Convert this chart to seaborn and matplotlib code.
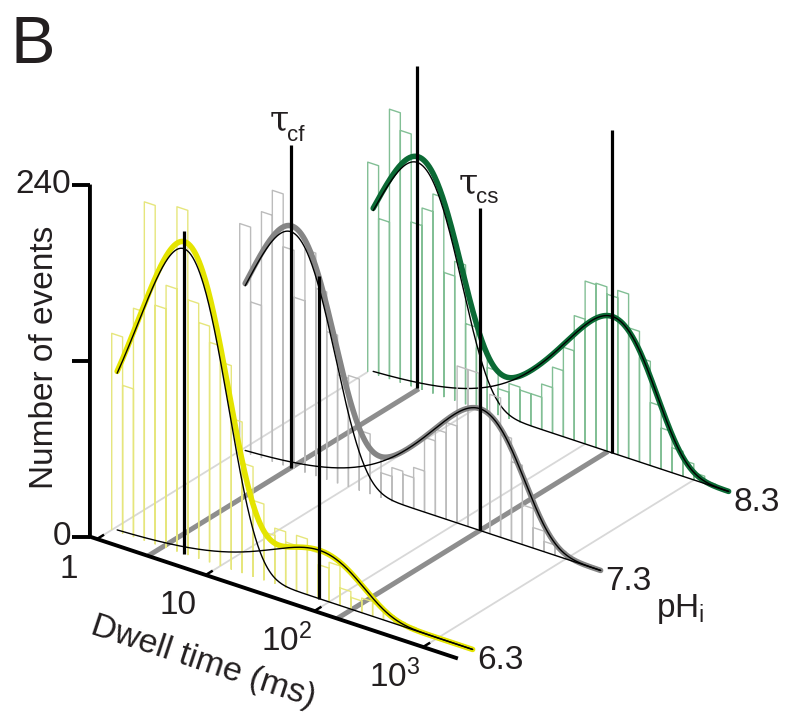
import numpy as np
import pandas as pd
import matplotlib
matplotlib.use("Agg")
import matplotlib.pyplot as plt
import seaborn as sns

# ---------------------------------------------------------------------------
# Data: dwell-time histograms (10 bins per decade, first bin edge at 1 ms)
# ---------------------------------------------------------------------------
bin_width_log = 0.1
ph_values = [6.3, 7.3, 8.3]
ph_labels = ["6.3", "7.3", "8.3"]

counts_ph63 = [134, 101, 156, 231, 163, 179, 235, 174, 161, 150,
               139, 103, 75, 52, 33, 38, 31, 38, 31, 23,
               27, 12, 8, 10, 9, 5, 3, 2, 1, 1, 0, 0, 0]
counts_ph73 = [155, 104, 168, 185, 149, 117, 152, 128, 101, 74,
               76, 41, 28, 17, 23, 21, 28, 51, 59, 66,
               107, 107, 83, 95, 70, 54, 27, 14, 7, 5, 2, 1, 0]
counts_ph83 = [143, 107, 184, 172, 112, 124, 136, 85, 95, 55,
               41, 30, 18, 24, 22, 22, 31, 45, 61, 85,
               111, 112, 107, 112, 89, 71, 43, 28, 17, 11, 5, 2, 1]
histograms = [counts_ph63, counts_ph73, counts_ph83]

# two-component fits (log-binned exponentials): time constants in ms, peak heights
tau_cf_ms = [4.6, 2.95, 2.85]
peak_cf = [208, 161, 154]
tau_cs_ms = [81.0, 162.0, 178.0]
peak_cs = [33, 83, 93]

y_ticks = [0, 120, 240]
y_tick_labels = ["0", "", "240"]
x_tick_decades = [0, 1, 2, 3]
x_tick_labels = ["1", "10", r"$\mathrm{10^2}$", r"$\mathrm{10^3}$"]

# ---------------------------------------------------------------------------
# Styling / layout
# ---------------------------------------------------------------------------
curve_colors = ["#e4e400", "#858585", "#0b6a35"]
hist_colors = ["#e6e67c", "#bcbcbc", "#82bf95"]
FLOOR_THICK = "#8e8e8e"
FLOOR_THIN = "#d8d8d8"
INK = "#231f20"

W, H = 785, 715
ORIGIN = np.array([97.0, 539.0])   # 1 ms, 0 events, front of the pH axis
E_LOG = np.array([108.7, 36.0])    # one decade of dwell time
E_COUNT = np.array([0.0, -1.467])  # one event
E_PH = np.array([128.0, -79.0])    # one pH unit
PH_FRONT = 6.185
LOG_MIN, LOG_MAX = -0.065, 3.32    # extent of the dwell-time axis
FIT_MIN, FIT_MAX = 0.05, 3.32      # extent of the fitted curves
TAU_LINE_TOP = 220                 # height of the time-constant markers

sns.set_theme(style="white")
plt.rcParams["font.family"] = ["Liberation Sans", "DejaVu Sans"]
plt.rcParams["mathtext.fontset"] = "custom"
plt.rcParams["mathtext.rm"] = "Liberation Sans"
plt.rcParams["mathtext.it"] = "Liberation Sans:italic"


def proj(logt, n, ph):
    """Oblique projection of (log10 dwell time, events, pH) onto the page."""
    logt = np.asarray(logt, float)
    n = np.asarray(n, float)
    d = np.asarray(ph, float) - PH_FRONT
    x = ORIGIN[0] + logt * E_LOG[0] + n * E_COUNT[0] + d * E_PH[0]
    y = ORIGIN[1] + logt * E_LOG[1] + n * E_COUNT[1] + d * E_PH[1]
    return x, y


def component(logt, tau_ms, peak):
    u = 10.0 ** np.asarray(logt) / tau_ms
    return peak * u * np.exp(1.0 - u)


fig = plt.figure(figsize=(W / 100, H / 100), dpi=100)
ax = fig.add_axes([0, 0, 1, 1])
ax.set_xlim(0, W)
ax.set_ylim(H, 0)
ax.axis("off")


def draw(xs, ys, **kw):
    kw.setdefault("solid_capstyle", "butt")
    ax.plot(xs, ys, **kw)


# ---- floor: decade grid lines and time-constant ridges --------------------
for dec in x_tick_decades:
    x0, y0 = proj(dec, 0, PH_FRONT)
    x1, y1 = proj(dec, 0, ph_values[-1])
    draw([x0, x1], [y0, y1], color=FLOOR_THIN, lw=1.3, zorder=1)
for tau in (tau_cf_ms[1], tau_cs_ms[1]):
    lt = np.log10(tau)
    x0, y0 = proj(lt, 0, PH_FRONT)
    x1, y1 = proj(lt, 0, ph_values[-1])
    draw([x0, x1], [y0, y1], color=FLOOR_THICK, lw=3.6, zorder=2)

# ---- one histogram + fit per pH, drawn back to front ----------------------
fit_grid = np.linspace(FIT_MIN, FIT_MAX, 400)
for i in reversed(range(len(ph_values))):
    ph = ph_values[i]
    z = 10 * (3 - i)
    # outlined bars
    bx, by = [], []
    for k, h in enumerate(histograms[i]):
        if h <= 0:
            continue
        lo, hi = k * bin_width_log, (k + 1) * bin_width_log
        px, py = proj([lo, lo, hi, hi], [0, h, h, 0], ph)
        bx += list(px) + [np.nan]
        by += list(py) + [np.nan]
    draw(bx, by, color=hist_colors[i], lw=1.0, zorder=z + 1)

    # fitted components and their sum
    fast = component(fit_grid, tau_cf_ms[i], peak_cf[i])
    slow = component(fit_grid, tau_cs_ms[i], peak_cs[i])
    tx, ty = proj(fit_grid, fast + slow, ph)
    sns.lineplot(x=tx, y=ty, sort=False, estimator=None, color=curve_colors[i],
                 linewidth=4.0, ax=ax, zorder=z + 2, legend=False)
    for comp in (fast, slow):
        cx, cy = proj(fit_grid, comp, ph)
        sns.lineplot(x=cx, y=cy, sort=False, estimator=None, color="black",
                     linewidth=1.0, ax=ax, zorder=z + 3, legend=False)

    # time-constant markers
    for tau in (tau_cf_ms[i], tau_cs_ms[i]):
        lt = np.log10(tau)
        vx, vy = proj([lt, lt], [0, TAU_LINE_TOP], ph)
        draw(vx, vy, color="black", lw=2.3, zorder=z + 4)

    # pH label at the end of the plane
    ex, ey = proj(FIT_MAX, 0, ph)
    ax.text(ex + 5, ey + 11, ph_labels[i], fontsize=24, ha="left",
            va="center", color=INK, zorder=60)
    if i == 1:
        ax.text(ex + 55, ey + 47, r"pH$_\mathrm{i}$", fontsize=24, ha="left",
                va="baseline", color=INK, zorder=60)

# labels of the time constants (middle pH)
for tau, sub in ((tau_cf_ms[1], "cf"), (tau_cs_ms[1], "cs")):
    lt = np.log10(tau)
    tx, ty = proj(lt, TAU_LINE_TOP, ph_values[1])
    ax.text(tx - 12, ty - 25, "\u03c4", fontsize=25, family="DejaVu Serif",
            ha="center", va="center", color=INK, zorder=60)
    ax.text(tx - 4, ty - 10, sub, fontsize=16, ha="left", va="center",
            color=INK, zorder=60)

# ---- axes ------------------------------------------------------------------
ax_x, ax_y = proj([LOG_MIN, LOG_MIN, LOG_MAX], [y_ticks[-1], 0, 0], PH_FRONT)
draw(ax_x, ax_y, color="black", lw=2.8, zorder=50, solid_joinstyle="miter")

for val, lab in zip(y_ticks, y_tick_labels):
    px, py = proj(LOG_MIN, val, PH_FRONT)
    draw([px - 18, px], [py, py], color="black", lw=2.8, zorder=50)
    if lab:
        ax.text(px - 19, py, lab, fontsize=24, ha="right", va="center",
                color=INK)

for dec, lab in zip(x_tick_decades, x_tick_labels):
    px, py = proj([dec, dec], [0, 0], [PH_FRONT, PH_FRONT + 0.055])
    draw(px, py, color="black", lw=1.8, zorder=50)
    ax.text(px[0] - 28, py[0] + 30, lab, fontsize=24, ha="center",
            va="center", color=INK)

ax.text(45, 357, "Number of events", fontsize=24, rotation=90,
        ha="center", va="center", color=INK)
angle = -np.degrees(np.arctan2(E_LOG[1], E_LOG[0]))
ax.text(203, 662, "Dwell time (ms)", fontsize=24.5, rotation=angle,
        rotation_mode="anchor", ha="center", va="center", color=INK)

ax.text(10, 63, "B", fontsize=48, ha="left", va="baseline", color=INK)

fig.savefig("out.png", dpi=100)
